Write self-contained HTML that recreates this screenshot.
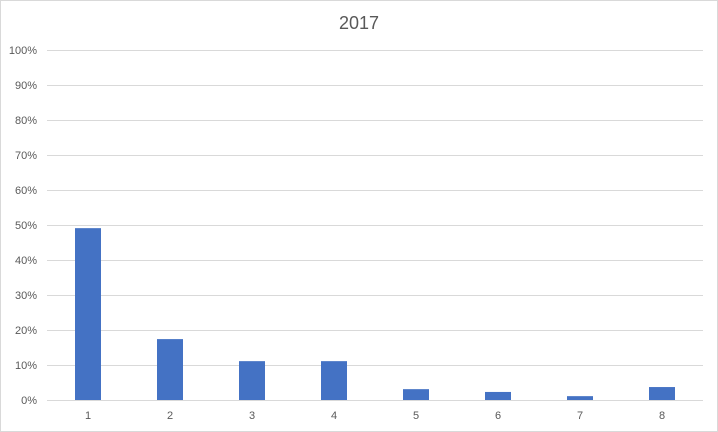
<!DOCTYPE html>
<html><head><meta charset="utf-8"><style>
html,body{margin:0;padding:0;background:#fff}
svg{display:block;font-family:"Liberation Sans",sans-serif}
</style></head><body>
<svg width="718" height="432">
<rect x="0.5" y="0.5" width="717" height="431" fill="#fff" stroke="#d9d9d9"/>
<text x="359" y="29" text-anchor="middle" font-size="18" fill="#595959">2017</text>
<g id="grid"></g><g id="bars"></g><g id="xl"></g>
</svg>
<script>
const categories=["1","2","3","4","5","6","7","8"];
const values=[49.1,17.4,11.1,11.1,3.1,2.3,1.1,3.7];
const yTicks=[0,10,20,30,40,50,60,70,80,90,100];
const NS="http://www.w3.org/2000/svg";
const x0=47,x1=703,yBase=400,yTop=50;
const y=v=>yBase-(v/100)*(yBase-yTop);
const step=(x1-x0)/categories.length;
const xc=i=>x0+step*(i+0.5);
const g=document.getElementById('grid'),b=document.getElementById('bars'),xl=document.getElementById('xl');
yTicks.forEach(t=>{
 const l=document.createElementNS(NS,'line');
 l.setAttribute('x1',x0);l.setAttribute('x2',x1);l.setAttribute('y1',y(t)+0.5);l.setAttribute('y2',y(t)+0.5);
 l.setAttribute('stroke','#d9d9d9');l.setAttribute('stroke-width','1');
 
 
 g.appendChild(l);
 const tx=document.createElementNS(NS,'text');
 tx.setAttribute('x',37);tx.setAttribute('y',y(t)+4);tx.setAttribute('text-anchor','end');
 tx.setAttribute('font-size','11');tx.setAttribute('fill','#595959');tx.textContent=t+'%';
 
 
 g.appendChild(tx);
});
values.forEach((v,i)=>{
 const r=document.createElementNS(NS,'rect');
 r.setAttribute('x',xc(i)-13);r.setAttribute('width',26);
 r.setAttribute('y',y(v));r.setAttribute('height',yBase-y(v));
 r.setAttribute('fill','#4472c4');
 
 
 b.appendChild(r);
 const tx=document.createElementNS(NS,'text');
 tx.setAttribute('x',xc(i));tx.setAttribute('y',419);tx.setAttribute('text-anchor','middle');
 tx.setAttribute('font-size','11');tx.setAttribute('fill','#595959');tx.textContent=categories[i];
 
 
 xl.appendChild(tx);
});
</script>
</body></html>
